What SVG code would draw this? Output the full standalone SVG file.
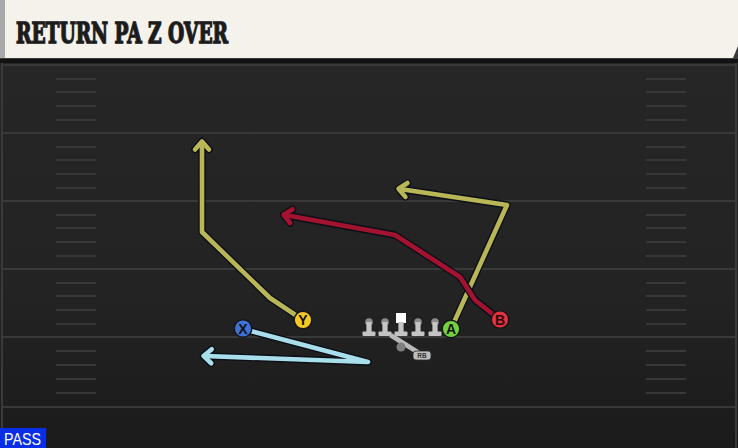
<svg xmlns="http://www.w3.org/2000/svg" width="738" height="448" viewBox="0 0 738 448">
<defs>
<linearGradient id="fieldGrad" x1="0" y1="0" x2="0" y2="1">
<stop offset="0" stop-color="#262626"/>
<stop offset="0.6" stop-color="#232323"/>
<stop offset="1" stop-color="#1b1b1b"/>
</linearGradient>
<marker id="arrO" markerUnits="userSpaceOnUse" markerWidth="30" markerHeight="30" refX="0" refY="0" viewBox="-15 -15 30 30" orient="auto" overflow="visible">
<path d="M -6.5 -7 L 1.5 0 L -6.5 7" fill="none" stroke="#0d0f18" stroke-width="7.4" stroke-linecap="round" stroke-linejoin="round"/>
</marker>
<marker id="arrOlive" markerUnits="userSpaceOnUse" markerWidth="30" markerHeight="30" refX="0" refY="0" viewBox="-15 -15 30 30" orient="auto" overflow="visible">
<path d="M -6.5 -7 L 1.5 0 L -6.5 7" fill="none" stroke="#b8b656" stroke-width="4.6" stroke-linecap="round" stroke-linejoin="round"/>
</marker>
<marker id="arrRed" markerUnits="userSpaceOnUse" markerWidth="30" markerHeight="30" refX="0" refY="0" viewBox="-15 -15 30 30" orient="auto" overflow="visible">
<path d="M -6.5 -7 L 1.5 0 L -6.5 7" fill="none" stroke="#a3132f" stroke-width="4.6" stroke-linecap="round" stroke-linejoin="round"/>
</marker>
<marker id="arrBlue" markerUnits="userSpaceOnUse" markerWidth="30" markerHeight="30" refX="0" refY="0" viewBox="-15 -15 30 30" orient="auto" overflow="visible">
<path d="M -6.5 -7 L 1.5 0 L -6.5 7" fill="none" stroke="#a8dfea" stroke-width="4.6" stroke-linecap="round" stroke-linejoin="round"/>
</marker>
<g id="lineman">
<circle cx="0" cy="-12" r="3.8" fill="#8c8c8c"/>
<rect x="-2.6" y="-12" width="5.2" height="11" fill="#c4c4c4"/>
<rect x="-6.5" y="-2.5" width="13" height="4.5" rx="1" fill="#c4c4c4"/>
</g>
</defs>
<style>
.yard{stroke:#393939;stroke-width:2;fill:none}
.hash{stroke:#383838;stroke-width:1.8;fill:none}
.outline{fill:none;stroke:#0d0f18;stroke-width:7.4;stroke-linejoin:round;stroke-linecap:round}
.route{fill:none;stroke-width:4.6;stroke-linejoin:round;stroke-linecap:round}
.olive{stroke:#b8b656}
.red{stroke:#a3132f}
.lblue{stroke:#a8dfea}
.player{stroke:#15151c;stroke-width:1.5}
.plabel{font-family:"Liberation Sans","DejaVu Sans",sans-serif;font-weight:bold;font-size:14px;fill:#111;text-anchor:middle}
</style>

<!-- field -->
<rect x="0" y="0" width="738" height="448" fill="#1c1c1c"/>
<rect x="0" y="59" width="738" height="389" fill="url(#fieldGrad)"/>
<rect x="0" y="59" width="738" height="4" fill="#121212"/>
<line x1="2" y1="63" x2="2" y2="448" stroke="#3a3a3a" stroke-width="2"/>
<line x1="736" y1="63" x2="736" y2="448" stroke="#3a3a3a" stroke-width="2"/>
<g id="yardlines">
<line class="yard" x1="3" y1="65" x2="735" y2="65"/>
<line class="yard" x1="3" y1="133" x2="735" y2="133"/>
<line class="yard" x1="3" y1="201" x2="735" y2="201"/>
<line class="yard" x1="3" y1="269" x2="735" y2="269"/>
<line class="yard" x1="3" y1="337" x2="735" y2="337"/>
<line class="yard" x1="3" y1="407" x2="735" y2="407"/>
</g>
<g id="hashes">
<path class="hash" d="M56 79H96M56 92H96M56 106H96M56 120H96M56 147H96M56 160H96M56 174H96M56 188H96M56 215H96M56 228H96M56 242H96M56 256H96M56 283H96M56 296H96M56 310H96M56 324H96M56 351H96M56 365H96M56 379H96M56 393H96"/>
<path class="hash" d="M646 79H686M646 92H686M646 106H686M646 120H686M646 147H686M646 160H686M646 174H686M646 188H686M646 215H686M646 228H686M646 242H686M646 256H686M646 283H686M646 296H686M646 310H686M646 324H686M646 351H686M646 365H686M646 379H686M646 393H686"/>
</g>

<!-- header -->
<g id="header">
<rect x="0" y="0" width="738" height="59" fill="#3a3a3a"/>
<rect x="0" y="0" width="5" height="58" fill="#a9a9a9"/>
<polygon points="5,0 738,0 738,46 733,58 5,58" fill="#f5f2eb"/>
<text x="16" y="43" font-family="'DejaVu Serif',serif" font-weight="bold" font-size="28" fill="#1b1b1b" stroke="#3c3c3c" stroke-width="1.8" stroke-linejoin="round" paint-order="stroke" textLength="212" lengthAdjust="spacingAndGlyphs">RETURN PA Z OVER</text>
</g>

<!-- connectors -->
<g id="connectors">
<path class="outline" d="M303 320 L270 298 L202 232 L202 143" marker-end="url(#arrO)"/>
<path class="route olive" d="M303 320 L270 298 L202 232 L202 143" marker-end="url(#arrOlive)"/>
<path class="outline" d="M451 329 L507 205 L400 189" marker-end="url(#arrO)"/>
<path class="route olive" d="M451 329 L507 205 L400 189" marker-end="url(#arrOlive)"/>
<path class="outline" d="M500 320 L475 300 L460 277 L395 235 L285 215" marker-end="url(#arrO)"/>
<path class="route red" d="M500 320 L475 300 L460 277 L395 235 L285 215" marker-end="url(#arrRed)"/>
<path class="outline" d="M243 329 L368 362 L205 356" marker-end="url(#arrO)"/>
<path class="route lblue" d="M243 329 L368 362 L205 356" marker-end="url(#arrBlue)"/>
</g>

<!-- offensive line -->
<g id="LT"><use href="#lineman" x="369" y="334"/></g>
<g id="LG"><use href="#lineman" x="385" y="334"/></g>
<g id="C">
<rect x="396" y="313" width="10" height="10" fill="#ffffff"/>
<rect x="398.4" y="322" width="5.2" height="11" fill="#c4c4c4"/>
<rect x="394.5" y="331.5" width="13" height="4.5" rx="1" fill="#c4c4c4"/>
</g>
<g id="RG"><use href="#lineman" x="418" y="334"/></g>
<g id="RT"><use href="#lineman" x="435" y="334"/></g>

<!-- RB -->
<g id="RB">
<line x1="392" y1="336" x2="419" y2="353" stroke="#b9b9b9" stroke-width="5" stroke-linecap="round"/>
<circle cx="401" cy="347" r="4.5" fill="#7e7e7e"/>
<rect x="413" y="351" width="18" height="9" rx="3" fill="#bdbdbd" stroke="#2a2a2a" stroke-width="0.8"/>
<text x="422" y="358.3" font-family="'Liberation Sans',sans-serif" font-weight="bold" font-size="6.5" fill="#333" text-anchor="middle">RB</text>
</g>

<!-- skill players -->
<g id="X">
<circle class="player" cx="243" cy="328.5" r="8.8" fill="#3f72d8"/>
<text class="plabel" x="243" y="333.5">X</text>
</g>
<g id="Y">
<circle class="player" cx="303" cy="320" r="8.8" fill="#f5c924"/>
<text class="plabel" x="303" y="325">Y</text>
</g>
<g id="A">
<circle class="player" cx="451" cy="329" r="8.8" fill="#72d23c"/>
<text class="plabel" x="451" y="334">A</text>
</g>
<g id="B">
<circle class="player" cx="500" cy="319.5" r="8.8" fill="#e2323e"/>
<text class="plabel" x="500" y="324.5" style="fill:#2a0a0a">B</text>
</g>

<!-- play type -->
<g id="passTag">
<rect x="0" y="428" width="46" height="20" fill="#0a2ee6"/>
<text x="4" y="445" font-family="'Liberation Sans',sans-serif" font-size="17" fill="#ffffff" textLength="37" lengthAdjust="spacingAndGlyphs">PASS</text>
</g>
</svg>
